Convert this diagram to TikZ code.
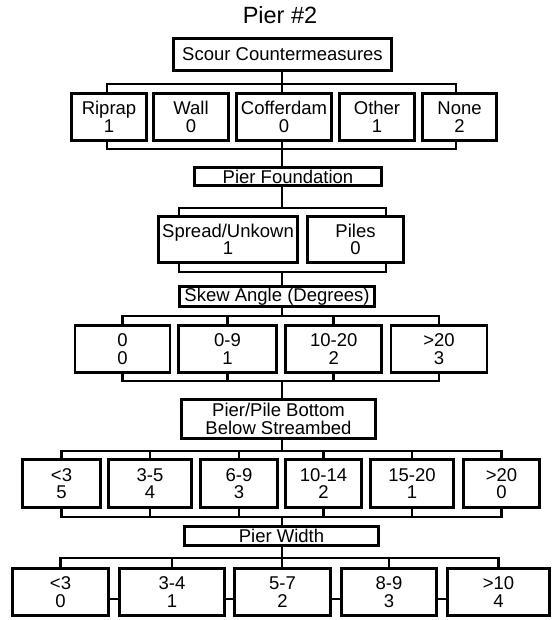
\documentclass[tikz,border=0pt]{standalone}
\usepackage{fontspec}
\setmainfont{Liberation Sans}
\begin{document}
\begin{tikzpicture}[x=1pt,y=-1pt,
  box/.style={draw, line width=2.7pt, inner sep=0pt, outer sep=0pt, align=center,
    font=\fontsize{18.5}{17.5}\selectfont},
  conn/.style={line width=2.6pt, line cap=rect},
  ttl/.style={inner sep=0pt, font=\fontsize{23.5}{26}\selectfont}]
\useasboundingbox (0,0) rectangle (552,620);
\coordinate (spine) at (282,0);
% title
\node[ttl] (title) at (280,15) {Pier \#2};
% level A
\node[box, minimum width=218, minimum height=32] (scm) at (282.5,54.5) {Scour Countermeasures};
% level B
\node[box, minimum width=75, minimum height=47.5] (rip) at (109,117) {Riprap\\1};
\node[box, minimum width=75, minimum height=47.5] (wal) at (191,117) {Wall\\0};
\node[box, minimum width=95, minimum height=47.5] (cof) at (284,117) {Cofferdam\\0};
\node[box, minimum width=75, minimum height=47.5] (oth) at (377,117) {Other\\1};
\node[box, minimum width=74, minimum height=47.5] (non) at (459.5,117) {None\\2};
% level C
\node[box, minimum width=187, minimum height=18.5] (pf) at (288,176.5) {Pier Foundation};
% level D
\node[box, minimum width=139, minimum height=46] (spr) at (228,239.5) {Spread/Unkown\\1};
\node[box, minimum width=96, minimum height=46] (pil) at (355.5,239.5) {Piles\\0};
% skew
\node[box, minimum width=195, minimum height=19.5] (sk) at (277,296.5) {Skew Angle (Degrees)};
% level E
\node[box, minimum width=95, minimum height=47] (e01) at (122.5,349) {0\\0};
\node[box, minimum width=98, minimum height=47] (e02) at (227.5,349) {0-9\\1};
\node[box, minimum width=96, minimum height=47] (e03) at (333.75,349) {10-20\\2};
\node[box, minimum width=96, minimum height=47] (e04) at (439,349) {>20\\3};
% pier/pile
\node[box, minimum width=194, minimum height=39] (pp) at (278.5,419) {Pier/Pile Bottom\\Below Streambed};
% level F
\node[box, minimum width=78, minimum height=48] (f1) at (61.5,483.5) {<3\\5};
\node[box, minimum width=83, minimum height=48] (f2) at (150,483.5) {3-5\\4};
\node[box, minimum width=77, minimum height=48] (f3) at (239,483.5) {6-9\\3};
\node[box, minimum width=76, minimum height=48] (f4) at (323.5,483.5) {10-14\\2};
\node[box, minimum width=83, minimum height=48] (f5) at (412,483.5) {15-20\\1};
\node[box, minimum width=76, minimum height=48] (f6) at (501.5,483.5) {>20\\0};
% pier width
\node[box, minimum width=194, minimum height=19] (pw) at (281.5,536) {Pier Width};
% level G
\node[box, minimum width=96, minimum height=47] (g1) at (60.5,592) {<3\\0};
\node[box, minimum width=105, minimum height=47] (g2) at (172,592) {3-4\\1};
\node[box, minimum width=96, minimum height=47] (g3) at (282.5,592) {5-7\\2};
\node[box, minimum width=95, minimum height=47] (g4) at (389,592) {8-9\\3};
\node[box, minimum width=102, minimum height=47] (g5) at (498.5,592) {>10\\4};

% connectors A-B
\coordinate (a1) at (107,84); \coordinate (a2) at (456,84);
\draw[conn] (rip.north -| a1) |- (a2) -- (a2 |- non.north);
\draw[conn] (scm.south -| spine) -- (cof.north -| spine);
\coordinate (b1) at (107,149); \coordinate (b2) at (456,149);
\draw[conn] (rip.south -| b1) |- (b2) -- (b2 |- non.south);
\draw[conn] (cof.south -| spine) -- (pf.north -| spine);
% C-D
\coordinate (c1) at (179,208); \coordinate (c2) at (386,208);
\draw[conn] (spr.north -| c1) |- (c2) -- (c2 |- pil.north);
\draw[conn] (pf.south -| spine) -- (spine |- c1);
\coordinate (d1) at (179,272); \coordinate (d2) at (386,272);
\draw[conn] (spr.south -| d1) |- (d2) -- (d2 |- pil.south);
\draw[conn] (spine |- d1) -- (sk.north -| spine);
% skew - E
\coordinate (s1) at (0,316);
\draw[conn] (e01.north) -- (e01.north |- s1) -| (e04.north);
\draw[conn] (e02.north) -- (e02.north |- s1);
\draw[conn] (e03.north) -- (e03.north |- s1);
\draw[conn] (sk.south -| spine) -- (spine |- s1);
\coordinate (s2) at (0,381);
\draw[conn] (e01.south) -- (e01.south |- s2) -| (e04.south);
\draw[conn] (e02.south) -- (e02.south |- s2);
\draw[conn] (e03.south) -- (e03.south |- s2);
\draw[conn] (spine |- s2) -- (pp.north -| spine);
% pier/pile - F
\coordinate (p1) at (0,451);
\draw[conn] (f1.north) -- (f1.north |- p1) -| (f6.north);
\foreach \n in {f2,f3,f4,f5} \draw[conn] (\n.north) -- (\n.north |- p1);
\draw[conn] (pp.south -| spine) -- (spine |- p1);
\coordinate (p2) at (0,517);
\draw[conn] (f1.south) -- (f1.south |- p2) -| (f6.south);
\foreach \n in {f2,f3,f4,f5} \draw[conn] (\n.south) -- (\n.south |- p2);
\draw[conn] (spine |- p2) -- (pw.north -| spine);
% pier width - G
\coordinate (w1) at (0,558);
\draw[conn] (g1.north) -- (g1.north |- w1) -| (g5.north);
\draw[conn] (g2.north) -- (g2.north |- w1);
\draw[conn] (g4.north) -- (g4.north |- w1);
\draw[conn] (pw.south -| spine) -- (g3.north -| spine);
\draw[conn] ([yshift=-7pt]g1.east) -- ([yshift=-7pt]g2.west);
\draw[conn] ([yshift=-7pt]g2.east) -- ([yshift=-7pt]g3.west);
\draw[conn] ([yshift=-7pt]g3.east) -- ([yshift=-7pt]g4.west);
\draw[conn] ([yshift=-7pt]g4.east) -- ([yshift=-7pt]g5.west);
\end{tikzpicture}
\end{document}
